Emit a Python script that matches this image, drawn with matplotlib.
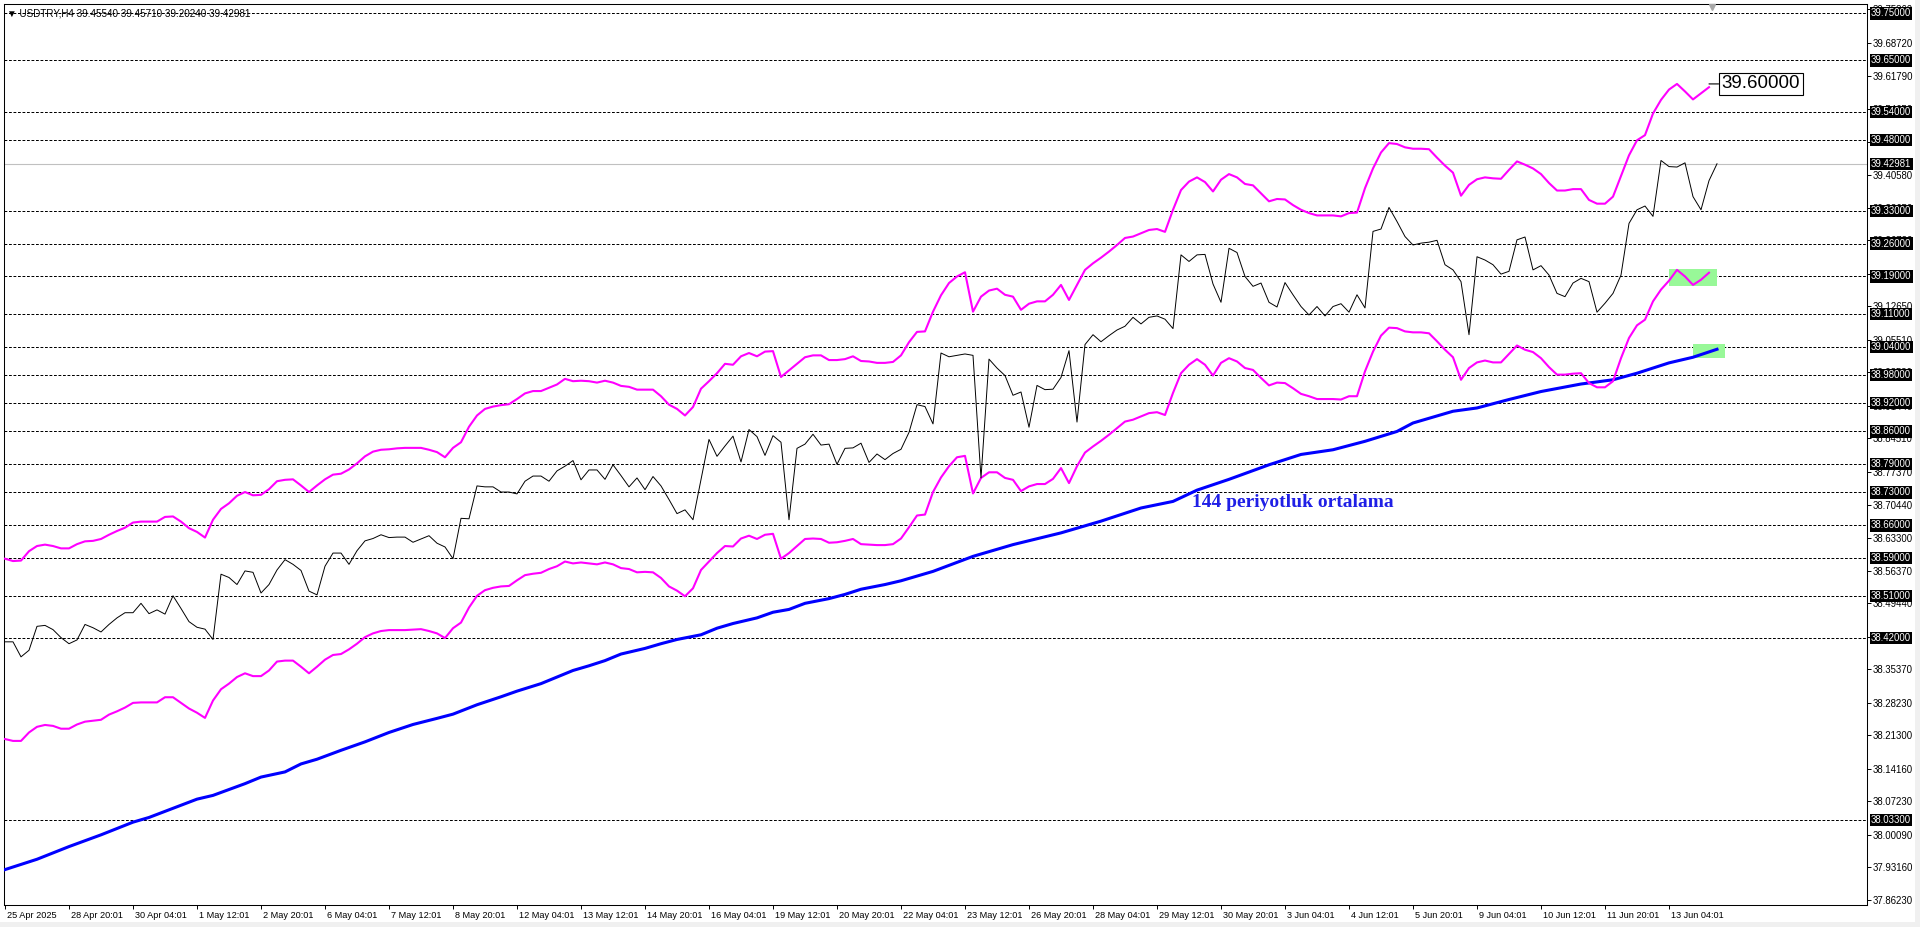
import matplotlib
matplotlib.use('Agg')
import matplotlib.pyplot as plt
import matplotlib.transforms as mtransforms
from matplotlib.patches import Rectangle

plt.rcParams['font.family'] = ['Liberation Sans', 'DejaVu Sans']

# ---- data ----
header = '\u25bc USDTRY,H4 39.45540 39.45710 39.20240 39.42981'
last_price = 39.42981
target_text = '39.60000'
ma_text = '144 periyotluk ortalama'

time_labels = ['25 Apr 2025', '28 Apr 20:01', '30 Apr 04:01', '1 May 12:01', '2 May 20:01',
               '6 May 04:01', '7 May 12:01', '8 May 20:01', '12 May 04:01', '13 May 12:01',
               '14 May 20:01', '16 May 04:01', '19 May 12:01', '20 May 20:01', '22 May 04:01',
               '23 May 12:01', '26 May 20:01', '28 May 04:01', '29 May 12:01', '30 May 20:01',
               '3 Jun 04:01', '4 Jun 12:01', '5 Jun 20:01', '9 Jun 04:01', '10 Jun 12:01',
               '11 Jun 20:01', '13 Jun 04:01']
bars_per_label = 8

price_ticks = [37.86230, 37.93160, 38.00090, 38.07230, 38.14160, 38.21300, 38.28230,
               38.35370, 38.42300, 38.49440, 38.56370, 38.63300, 38.70440, 38.77370,
               38.84510, 38.91440, 38.98580, 39.05510, 39.12650, 39.19580, 39.26720,
               39.33650, 39.40580, 39.47720, 39.54650, 39.61790, 39.68720, 39.75860]

levels = [39.75, 39.65, 39.54, 39.48, 39.33, 39.26, 39.19, 39.11, 39.04, 38.98,
          38.92, 38.86, 38.79, 38.73, 38.66, 38.59, 38.51, 38.42, 38.033]

close = [38.412, 38.412, 38.380, 38.394, 38.445, 38.447, 38.438, 38.421, 38.408, 38.416,
         38.449, 38.442, 38.433, 38.449, 38.463, 38.474, 38.474, 38.494, 38.472, 38.480,
         38.471, 38.510, 38.483, 38.455, 38.443, 38.439, 38.417, 38.556, 38.549, 38.534,
         38.563, 38.560, 38.516, 38.534, 38.565, 38.587, 38.577, 38.564, 38.520, 38.512,
         38.573, 38.601, 38.601, 38.577, 38.606, 38.627, 38.632, 38.640, 38.634, 38.635,
         38.635, 38.624, 38.631, 38.638, 38.622, 38.614, 38.589, 38.675, 38.674, 38.744,
         38.742, 38.742, 38.731, 38.731, 38.727, 38.754, 38.765, 38.765, 38.754, 38.776,
         38.786, 38.798, 38.757, 38.778, 38.778, 38.758, 38.789, 38.766, 38.742, 38.761,
         38.736, 38.764, 38.744, 38.715, 38.685, 38.693, 38.672, 38.757, 38.843, 38.807,
         38.829, 38.850, 38.795, 38.864, 38.849, 38.809, 38.851, 38.837, 38.672, 38.824,
         38.833, 38.854, 38.831, 38.833, 38.790, 38.824, 38.825, 38.835, 38.794, 38.812,
         38.800, 38.813, 38.822, 38.858, 38.917, 38.913, 38.876, 39.027, 39.019, 39.022,
         39.025, 39.022, 38.761, 39.014, 38.995, 38.979, 38.937, 38.944, 38.869, 38.958,
         38.949, 38.950, 38.975, 39.032, 38.880, 39.045, 39.066, 39.051, 39.064, 39.076,
         39.084, 39.103, 39.089, 39.103, 39.106, 39.099, 39.079, 39.236, 39.222, 39.236,
         39.237, 39.174, 39.135, 39.250, 39.241, 39.190, 39.169, 39.176, 39.135, 39.125,
         39.177, 39.151, 39.126, 39.108, 39.126, 39.106, 39.126, 39.132, 39.114, 39.151,
         39.123, 39.286, 39.291, 39.337, 39.307, 39.275, 39.257, 39.261, 39.263, 39.267,
         39.215, 39.204, 39.179, 39.066, 39.232, 39.225, 39.215, 39.195, 39.201, 39.268,
         39.274, 39.204, 39.213, 39.193, 39.154, 39.147, 39.176, 39.186, 39.179, 39.114,
         39.133, 39.154, 39.193, 39.303, 39.332, 39.340, 39.318, 39.437, 39.424, 39.423,
         39.432, 39.360, 39.332, 39.394, 39.430]

upper = [38.589, 38.584, 38.585, 38.605, 38.616, 38.619, 38.616, 38.611, 38.611, 38.620,
         38.626, 38.627, 38.631, 38.640, 38.648, 38.655, 38.666, 38.668, 38.668, 38.668,
         38.678, 38.679, 38.668, 38.654, 38.646, 38.634, 38.672, 38.695, 38.707, 38.723,
         38.731, 38.724, 38.725, 38.737, 38.754, 38.757, 38.758, 38.745, 38.731, 38.745,
         38.758, 38.768, 38.770, 38.779, 38.792, 38.807, 38.817, 38.821, 38.822, 38.824,
         38.825, 38.825, 38.825, 38.821, 38.816, 38.805, 38.825, 38.837, 38.870, 38.894,
         38.908, 38.913, 38.916, 38.918, 38.929, 38.941, 38.946, 38.946, 38.953, 38.960,
         38.972, 38.967, 38.968, 38.967, 38.964, 38.968, 38.964, 38.957, 38.955, 38.949,
         38.949, 38.949, 38.935, 38.917, 38.908, 38.894, 38.912, 38.951, 38.967, 38.984,
         39.004, 39.002, 39.020, 39.027, 39.020, 39.030, 39.031, 38.976, 38.990, 39.004,
         39.018, 39.022, 39.022, 39.012, 39.012, 39.014, 39.020, 39.010, 39.009, 39.006,
         39.006, 39.008, 39.022, 39.050, 39.072, 39.073, 39.115, 39.150, 39.176, 39.190,
         39.199, 39.115, 39.147, 39.160, 39.164, 39.151, 39.147, 39.119, 39.132, 39.137,
         39.137, 39.151, 39.172, 39.140, 39.172, 39.204, 39.218, 39.230, 39.243, 39.257,
         39.272, 39.275, 39.282, 39.289, 39.291, 39.285, 39.332, 39.374, 39.392, 39.401,
         39.391, 39.371, 39.396, 39.408, 39.401, 39.387, 39.384, 39.367, 39.350, 39.355,
         39.354, 39.342, 39.332, 39.325, 39.320, 39.320, 39.320, 39.318, 39.325, 39.326,
         39.378, 39.420, 39.454, 39.474, 39.472, 39.465, 39.462, 39.462, 39.461, 39.443,
         39.426, 39.411, 39.362, 39.385, 39.397, 39.401, 39.399, 39.398, 39.417, 39.435,
         39.428, 39.420, 39.408, 39.389, 39.373, 39.373, 39.376, 39.376, 39.353, 39.345,
         39.345, 39.360, 39.404, 39.448, 39.480, 39.491, 39.537, 39.566, 39.588, 39.600,
         39.584, 39.567, 39.580, 39.593]

lower = [38.205, 38.201, 38.201, 38.219, 38.231, 38.235, 38.233, 38.227, 38.227, 38.236,
         38.242, 38.244, 38.246, 38.257, 38.264, 38.272, 38.282, 38.283, 38.283, 38.283,
         38.294, 38.294, 38.282, 38.270, 38.261, 38.250, 38.287, 38.311, 38.323, 38.337,
         38.345, 38.339, 38.339, 38.351, 38.370, 38.372, 38.372, 38.359, 38.345, 38.359,
         38.374, 38.384, 38.386, 38.396, 38.408, 38.422, 38.430, 38.435, 38.437, 38.437,
         38.437, 38.438, 38.439, 38.435, 38.430, 38.420, 38.441, 38.453, 38.485, 38.510,
         38.522, 38.527, 38.530, 38.531, 38.543, 38.554, 38.557, 38.559, 38.567, 38.573,
         38.583, 38.579, 38.581, 38.579, 38.577, 38.581, 38.577, 38.569, 38.567, 38.560,
         38.561, 38.560, 38.548, 38.530, 38.521, 38.509, 38.526, 38.565, 38.583, 38.601,
         38.616, 38.615, 38.632, 38.638, 38.631, 38.640, 38.642, 38.589, 38.601, 38.616,
         38.631, 38.632, 38.631, 38.623, 38.624, 38.627, 38.631, 38.620, 38.619, 38.618,
         38.618, 38.620, 38.632, 38.656, 38.681, 38.683, 38.731, 38.762, 38.786, 38.805,
         38.808, 38.728, 38.761, 38.773, 38.773, 38.761, 38.757, 38.733, 38.743, 38.748,
         38.748, 38.759, 38.782, 38.750, 38.786, 38.815, 38.828, 38.840, 38.853, 38.867,
         38.881, 38.885, 38.892, 38.899, 38.901, 38.895, 38.942, 38.984, 39.002, 39.014,
         39.002, 38.979, 39.006, 39.016, 39.009, 38.995, 38.991, 38.974, 38.958, 38.964,
         38.963, 38.952, 38.940, 38.935, 38.929, 38.929, 38.929, 38.928, 38.935, 38.935,
         38.988, 39.030, 39.064, 39.081, 39.080, 39.073, 39.071, 39.071, 39.069, 39.052,
         39.034, 39.018, 38.970, 38.995, 39.007, 39.011, 39.007, 39.007, 39.025, 39.043,
         39.034, 39.029, 39.016, 38.997, 38.981, 38.981, 38.983, 38.984, 38.963, 38.954,
         38.954, 38.967, 39.016, 39.059, 39.086, 39.098, 39.137, 39.162, 39.181, 39.204,
         39.190, 39.172, 39.183, 39.198]

# 144-period moving average, sampled along the line (bar index, value)
ma_bars = [0, 4, 8, 12, 16, 18, 22, 24, 26, 30, 32, 35, 37, 39, 42, 45, 48, 51, 54, 56,
           59, 62, 64, 67, 69, 71, 73, 75, 77, 80, 82, 84, 87, 89, 91, 94, 96, 98, 100,
           103, 105, 107, 110, 112, 116, 121, 126, 132, 137, 142, 146, 149, 153, 158,
           162, 166, 170, 174, 176, 181, 184, 188, 192, 197, 201, 204, 208, 211, 214]
ma_vals = [37.927, 37.949, 37.976, 38.001, 38.028, 38.038, 38.064, 38.077, 38.085, 38.110,
           38.124, 38.135, 38.152, 38.162, 38.181, 38.199, 38.219, 38.236, 38.249, 38.258,
           38.278, 38.295, 38.307, 38.323, 38.337, 38.351, 38.361, 38.372, 38.386, 38.398,
           38.408, 38.417, 38.427, 38.441, 38.451, 38.463, 38.475, 38.481, 38.494, 38.504,
           38.513, 38.524, 38.534, 38.542, 38.562, 38.594, 38.619, 38.644, 38.669, 38.697,
           38.711, 38.735, 38.758, 38.789, 38.811, 38.821, 38.839, 38.860, 38.878, 38.903,
           38.910, 38.928, 38.945, 38.961, 38.970, 38.984, 39.006, 39.018, 39.035]


def main():
    W, H = 1920, 927
    fig = plt.figure(figsize=(W / 100, H / 100), dpi=100)
    fig.patch.set_facecolor('white')
    # chart frame: x 4..1867 px, y 4..905 px
    ax = fig.add_axes([4 / W, (H - 905) / H, 1863 / W, 901 / H])

    close_x = list(range(len(close)))
    band_x = list(range(len(upper)))
    fs_x = 6.6
    fs_y = 6.9

    # horizontal levels and current price
    for lv in levels:
        ax.axhline(lv, color='black', lw=0.72, ls=(0, (2.8, 1.7)), zorder=1)
    ax.axhline(last_price, color='#C0C0C0', lw=0.8, zorder=1)

    # highlight boxes at the end of the lower envelope and the MA
    lo_tail = lower[-6:]
    ax.add_patch(Rectangle((band_x[-6], min(lo_tail) - 0.002), 6, max(lo_tail) - min(lo_tail) + 0.004,
                           fc='#98F898', ec='none', zorder=1.2))
    ma_tail = ma_vals[-2:]
    ax.add_patch(Rectangle((ma_bars[-2], min(ma_tail) - 0.001), ma_bars[-1] - ma_bars[-2] + 1,
                           max(ma_tail) - min(ma_tail) + 0.013, fc='#98F898', ec='none', zorder=1.2))

    ax.plot(ma_bars, ma_vals, color='#0000FF', lw=2.2, zorder=3)
    ax.plot(band_x, upper, color='#FF00FF', lw=1.5, zorder=3)
    ax.plot(band_x, lower, color='#FF00FF', lw=1.5, zorder=3)
    ax.plot(close_x, close, color='black', lw=0.7, zorder=4)

    ax.set_xlim(-0.125, 232.75)
    ax.set_ylim(37.8516, 39.7702)

    # right price axis
    ax.yaxis.tick_right()
    ax.set_yticks(price_ticks)
    ax.set_yticklabels([f'{v:.5f}' for v in price_ticks])
    ax.tick_params(axis='y', direction='out', length=3, width=0.7, pad=0.8, labelsize=fs_y)

    # time axis
    tick_x = [i * bars_per_label for i in range(len(time_labels))]
    ax.set_xticks(tick_x)
    ax.set_xticklabels(time_labels)
    ax.tick_params(axis='x', direction='out', length=3, width=0.7, pad=1, labelsize=fs_x)
    shift = mtransforms.ScaledTranslation(2 / 100, 0, fig.dpi_scale_trans)
    for lab in ax.get_xticklabels():
        lab.set_horizontalalignment('left')
        lab.set_transform(lab.get_transform() + shift)

    for sp in ax.spines.values():
        sp.set_color('black')
        sp.set_linewidth(0.75)

    # black price labels for the levels
    tr = mtransforms.blended_transform_factory(ax.transAxes, ax.transData)
    lab_x = 1.0 + 4 / 1863
    box = dict(boxstyle='square,pad=0.12', fc='black', ec='none')
    for lv in levels:
        ax.text(lab_x, lv, f'{lv:.5f}', transform=tr, color='white', fontsize=fs_y,
                va='center', ha='left', zorder=6, bbox=box)
    ax.text(lab_x, last_price, f'{last_price:.5f}', transform=tr, color='white', fontsize=fs_y,
            va='center', ha='left', zorder=6, bbox=box)

    # header
    ax.text(3 / 1863, 0.99, header, transform=ax.transAxes, fontsize=7.1,
            va='center', ha='left', zorder=6)

    # 39.60000 callout at the end of the upper envelope
    target = float(target_text)
    ax.annotate(target_text, xy=(band_x[-1], target), xytext=(band_x[-1] + 1.6, target),
                fontsize=13.5, va='center', ha='left', zorder=6,
                bbox=dict(boxstyle='square,pad=0.15', fc='white', ec='black', lw=0.8),
                arrowprops=dict(arrowstyle='-', color='black', lw=0.8, shrinkA=0, shrinkB=0))

    # MA caption
    ax.text(148.4, 38.708, ma_text, color='#1F1FE6', fontsize=14, fontweight='bold',
            family=['Liberation Serif', 'DejaVu Serif'], va='center', ha='left', zorder=6)

    # chart-shift marker and window edges
    ax.plot([0.9168], [0.9965], marker='v', color='#A8A8A8', ms=4.5, transform=ax.transAxes,
            clip_on=False, zorder=6)
    fig.add_artist(Rectangle((1915 / W, 0), 5 / W, 1, transform=fig.transFigure,
                             fc='#F0F0F0', ec='none'))
    fig.add_artist(Rectangle((0, 0), 1, 5 / H, transform=fig.transFigure,
                             fc='#F0F0F0', ec='none'))

    fig.savefig('out.png', dpi=100, facecolor='white')


if __name__ == '__main__':
    main()
